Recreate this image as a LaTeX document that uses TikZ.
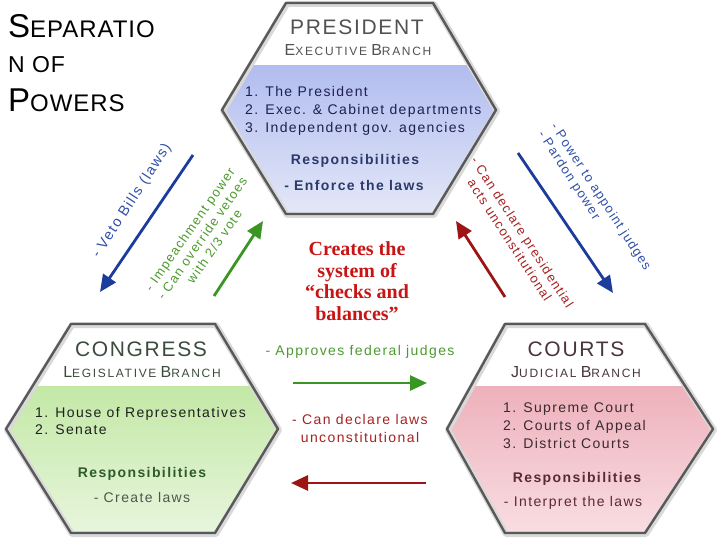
\documentclass[tikz,border=0pt]{standalone}
\usepackage{fontspec}
\setmainfont{Liberation Sans}
\newfontfamily\tnr{Liberation Serif}
\newfontfamily\spA[LetterSpace=8]{Liberation Sans}
\newfontfamily\spB[LetterSpace=14]{Liberation Sans}
\newfontfamily\spC[LetterSpace=10]{Liberation Sans}
\newfontfamily\spT[LetterSpace=4]{Liberation Sans}
\usetikzlibrary{arrows.meta}
\definecolor{pTop}{HTML}{B2BDEF}
\definecolor{pBot}{HTML}{E4E8F8}
\definecolor{gTop}{HTML}{C3E8A6}
\definecolor{gBot}{HTML}{E9F6DE}
\definecolor{rTop}{HTML}{EEB1BB}
\definecolor{rBot}{HTML}{F9DEE3}
\definecolor{arrBlue}{HTML}{1C3C9C}
\definecolor{arrGreen}{HTML}{3A9622}
\definecolor{arrRed}{HTML}{9C1414}
\definecolor{labBlue}{HTML}{3050A8}
\definecolor{labGreen}{HTML}{4C9A2E}
\definecolor{labRed}{HTML}{A52222}
\definecolor{pTxt}{HTML}{1E2050}
\definecolor{pResp}{HTML}{2B3A6B}
\definecolor{gTitle}{HTML}{3C4C3C}
\definecolor{gResp}{HTML}{2E5A2E}
\definecolor{gSub}{HTML}{4D574D}
\definecolor{rTitle}{HTML}{4A3538}
\definecolor{rTxt}{HTML}{3A2A30}
\definecolor{rResp}{HTML}{5A2A35}
\definecolor{ctrRed}{HTML}{C81414}
\newcommand\scapx[2]{{\fontsize{16}{16}\selectfont #1}{\fontsize{12}{12}\selectfont #2}}
\begin{document}
\begin{tikzpicture}[x=1pt,y=-1pt,
  hexline/.style={line width=2.4pt, draw=black!65, line join=round},
  hexhalo/.style={line width=6pt, draw=black!15, line join=round},
  arr/.style={line width=2.8pt, -{Triangle[length=17pt,width=15pt]}},
  lbl/.style={inner sep=0, font=\spC\fontsize{13}{15}\selectfont},
  body/.style={inner sep=0, font=\spC\fontsize{14}{17.5}\selectfont},
  htitle/.style={inner sep=0, font=\spA\fontsize{21}{21}\selectfont},
  hsub/.style={inner sep=0, font=\spB},
  ttl/.style={inner sep=0, anchor=base west, font=\spT}
]
\useasboundingbox (0,0) rectangle (720,540);

% ---------- title ----------
\node[ttl] (t1) at (8,38) {{\fontsize{33}{33}\selectfont S}{\fontsize{24}{24}\selectfont EPARATIO}};
\node[ttl] (t2) at (8,73) {\fontsize{23}{23}\selectfont N OF};
\node[ttl] (t3) at (8,112) {{\fontsize{33}{33}\selectfont P}{\fontsize{24}{24}\selectfont OWERS}};

% ---------- President hexagon ----------
\begin{scope}
\clip (286,3) -- (433,3) -- (496,110) -- (433,214) -- (286,214) -- (222,110) -- cycle;
\fill[white] (200,0) rectangle (510,66);
\shade[top color=pTop, bottom color=pBot] (200,66) rectangle (510,216);
\end{scope}
\draw[hexhalo] (287,4) -- (434,4) -- (497,111) -- (434,215) -- (287,215) -- (223,111) -- cycle;
\draw[hexline] (286,3) -- (433,3) -- (496,110) -- (433,214) -- (286,214) -- (222,110) -- cycle;

\node[htitle, anchor=base, text=black!68] (ptitle) at (357,35) {PRESIDENT};
\node[hsub, anchor=base, text=black!68] (psub) at (358,56) {\scapx{E}{XECUTIVE} \scapx{B}{RANCH}};
\node[body, anchor=base west, text=pTxt] (p1) at (245,97) {1. The President};
\node[body, anchor=base west, text=pTxt] (p2) at (245,115) {2. Exec. \& Cabinet departments};
\node[body, anchor=base west, text=pTxt] (p3) at (245,133) {3. Independent gov. agencies};
\node[body, anchor=base, text=pResp, font=\spC\bfseries\fontsize{14}{17}\selectfont] (presp) at (355,165) {Responsibilities};
\node[body, anchor=base, text=pResp, font=\spC\bfseries\fontsize{14}{17}\selectfont] (pduty) at (354,191) {- Enforce the laws};

% ---------- Congress hexagon ----------
\begin{scope}
\clip (71,324) -- (215,324) -- (278,429) -- (215,533) -- (71,533) -- (6,429) -- cycle;
\fill[white] (0,320) rectangle (290,386);
\shade[top color=gTop, bottom color=gBot] (0,386) rectangle (290,536);
\end{scope}
\draw[hexhalo] (72,325) -- (216,325) -- (279,430) -- (216,534) -- (72,534) -- (7,430) -- cycle;
\draw[hexline] (71,324) -- (215,324) -- (278,429) -- (215,533) -- (71,533) -- (6,429) -- cycle;

\node[htitle, anchor=base, text=gTitle] (ctitle) at (141,356) {CONGRESS};
\node[hsub, anchor=base, text=gTitle] (csub) at (142,377) {\scapx{L}{EGISLATIVE} \scapx{B}{RANCH}};
\node[body, anchor=base west, text=black!88] (c1) at (35,417) {1. House of Representatives};
\node[body, anchor=base west, text=black!88] (c2) at (35,434) {2. Senate};
\node[body, anchor=base, text=gResp, font=\spC\bfseries\fontsize{14}{17}\selectfont] (cresp) at (142,477) {Responsibilities};
\node[body, anchor=base, text=gSub] (cduty) at (142,502) {- Create laws};

% ---------- Courts hexagon ----------
\begin{scope}
\clip (505,324) -- (645,324) -- (713,429) -- (645,533) -- (505,533) -- (447,429) -- cycle;
\fill[white] (440,320) rectangle (720,386);
\shade[top color=rTop, bottom color=rBot] (440,386) rectangle (720,536);
\end{scope}
\draw[hexhalo] (506,325) -- (646,325) -- (714,430) -- (646,534) -- (506,534) -- (448,430) -- cycle;
\draw[hexline] (505,324) -- (645,324) -- (713,429) -- (645,533) -- (505,533) -- (447,429) -- cycle;

\node[htitle, anchor=base, text=rTitle] (jtitle) at (576,356) {COURTS};
\node[hsub, anchor=base, text=rTitle] (jsub) at (576,377) {\scapx{J}{UDICIAL} \scapx{B}{RANCH}};
\node[body, anchor=base west, text=rTxt] (j1) at (503,412) {1. Supreme Court};
\node[body, anchor=base west, text=rTxt] (j2) at (503,430) {2. Courts of Appeal};
\node[body, anchor=base west, text=rTxt] (j3) at (503,448) {3. District Courts};
\node[body, anchor=base, text=rResp, font=\spC\bfseries\fontsize{14}{17}\selectfont] (jresp) at (577,482) {Responsibilities};
\node[body, anchor=base, text=rResp] (jduty) at (573,506) {- Interpret the laws};

% ---------- arrows ----------
\coordinate (a1s) at (193,155); \coordinate (a1e) at (100,292);
\coordinate (a2s) at (214,296); \coordinate (a2e) at (263,221);
\coordinate (a3s) at (505,297); \coordinate (a3e) at (456,221);
\coordinate (a4s) at (518,153); \coordinate (a4e) at (613,293);
\coordinate (a5s) at (293,383); \coordinate (a5e) at (427,383);
\coordinate (a6s) at (426,483); \coordinate (a6e) at (291,483);
\draw[arr, arrBlue] (a1s) -- (a1e);
\draw[arr, arrGreen] (a2s) -- (a2e);
\draw[arr, arrRed] (a3s) -- (a3e);
\draw[arr, arrBlue] (a4s) -- (a4e);
\draw[arr, arrGreen] (a5s) -- (a5e);
\draw[arr, arrRed] (a6s) -- (a6e);

% ---------- arrow labels ----------
\node[lbl, text=labBlue, rotate=57, font=\spC\fontsize{14.5}{16}\selectfont] (veto) at (132,201) {- Veto Bills (laws)};
\node[lbl, text=labGreen, rotate=55, align=center] (impeach) at (202,238) {- Impeachment power\\- Can override vetoes\\with 2/3 vote};
\node[lbl, text=labRed, rotate=-57, align=center] (declp) at (516,236) {- Can declare presidential\\acts unconstitutional};
\node[lbl, text=labBlue, rotate=-57, align=left] (appoint) at (594,201) {- Power to appoint judges\\- Pardon power};
\node[lbl, text=labGreen, anchor=base, font=\spC\fontsize{14}{17}\selectfont] (approve) at (360,355) {- Approves federal judges};
\node[lbl, text=labRed, anchor=base, align=center, font=\spC\fontsize{14}{18}\selectfont] (decll) at (360,442) {- Can declare laws\\unconstitutional};

% ---------- centre text ----------
\node[inner sep=0, text=ctrRed, align=center, font=\tnr\bfseries\fontsize{20}{21.5}\selectfont] (checks) at (357,281) {Creates the\\system of\\“checks and\\balances”};
\end{tikzpicture}
\end{document}
